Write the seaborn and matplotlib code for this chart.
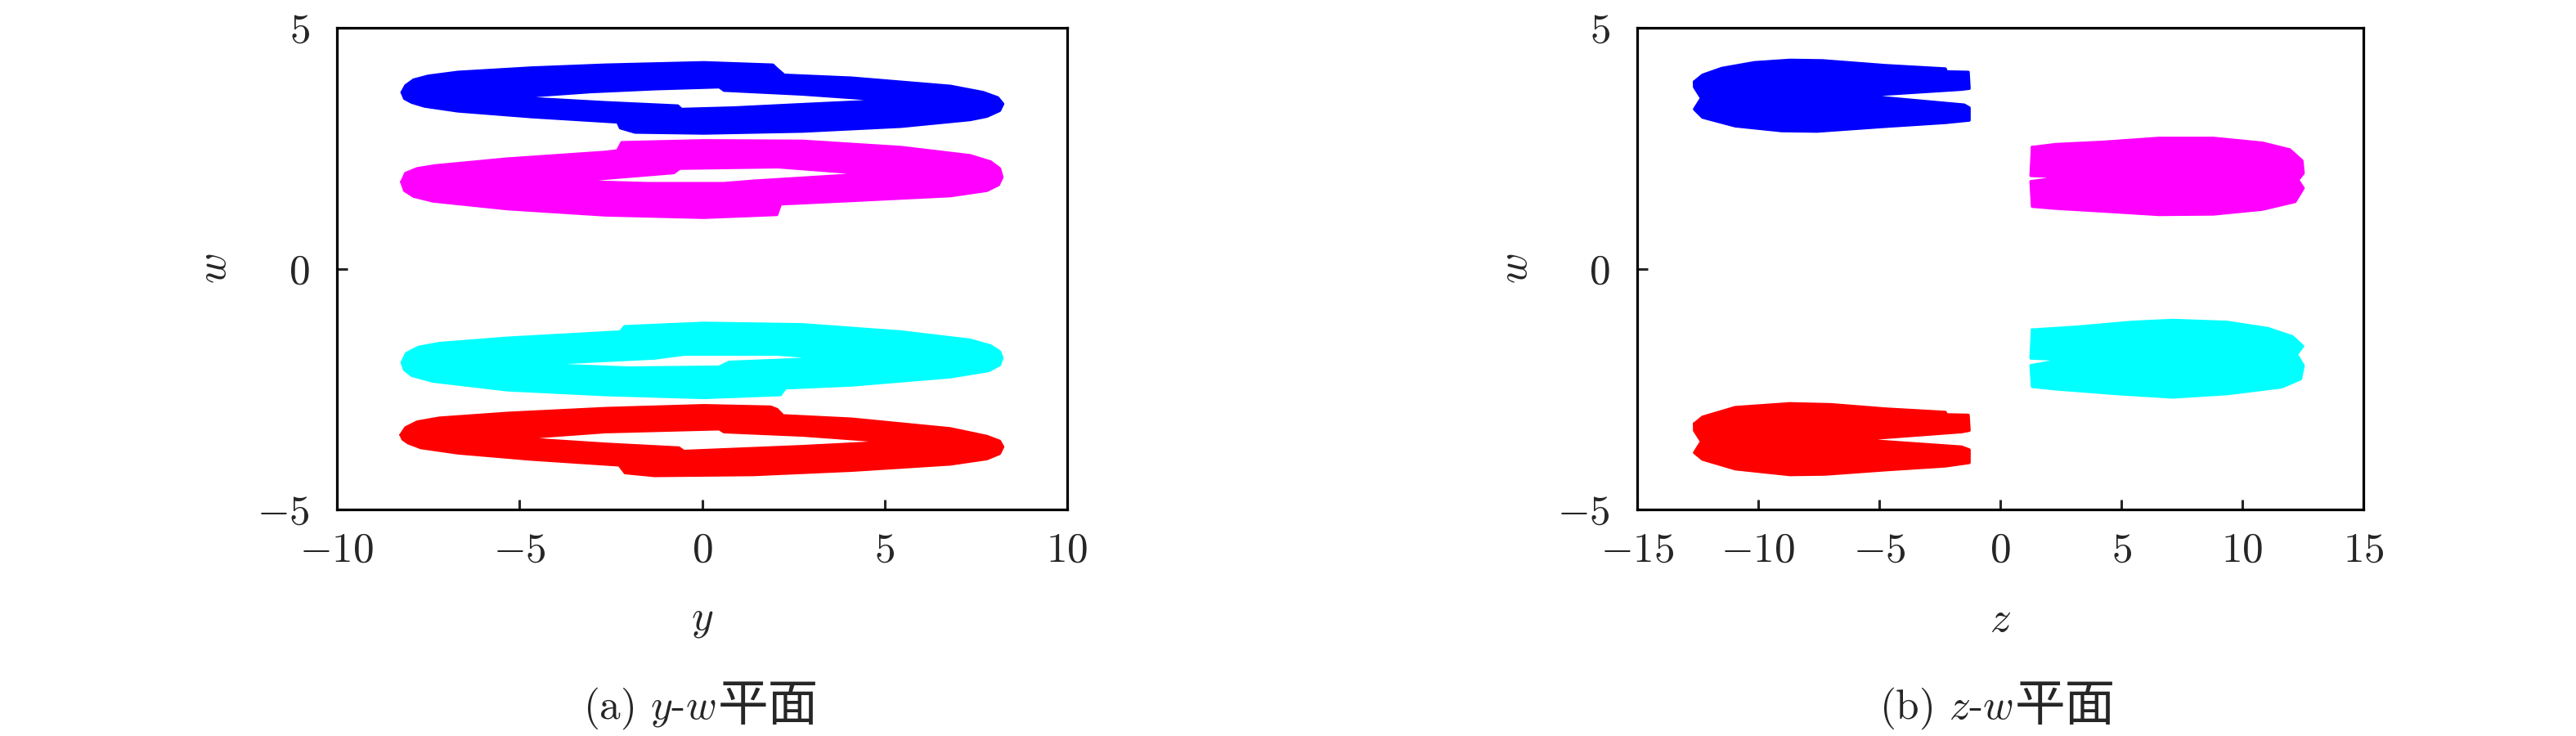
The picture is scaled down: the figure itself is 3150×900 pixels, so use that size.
import numpy as np
import pandas as pd
import seaborn as sns
import matplotlib.pyplot as plt

# ---------------- data (outlines of each attractor band) ----------------
# (a) y-w plane
blue_yw_y = [-8.22, -8.12, -7.90, -7.50, -6.69, -4.67, -2.65, 0.05, 1.94, 2.05, 2.25, 4.10, 6.80, 7.70, 8.10, 8.24,
             8.15, 7.80, 7.34, 5.45, 2.75, 0.05, -1.84, -2.24, -2.31, -4.67, -6.69, -7.60, -7.95, -8.15]
blue_yw_w = [3.66, 3.80, 3.92, 4.00, 4.08, 4.17, 4.23, 4.28, 4.23, 4.15, 4.02, 3.96, 3.79, 3.66, 3.55, 3.42,
             3.28, 3.16, 3.09, 2.95, 2.85, 2.81, 2.83, 2.92, 3.04, 3.15, 3.27, 3.37, 3.45, 3.53]
blue_yw_hole_y = [-4.55, -3.05, -1.30, 0.46, 0.59, 2.75, 4.44, 2.75, 0.86, -0.55, -0.65, -2.65]
blue_yw_hole_w = [3.56, 3.64, 3.70, 3.74, 3.67, 3.59, 3.50, 3.44, 3.37, 3.34, 3.41, 3.48]

magenta_yw_y = [-8.23, -8.12, -7.80, -7.30, -5.34, -2.65, -2.32, -2.20, 0.05, 2.75, 5.45, 7.34, 7.90, 8.15, 8.22,
                8.12, 7.80, 6.80, 4.10, 2.15, 2.05, 0.05, -2.65, -5.34, -7.37, -7.90, -8.15]
magenta_yw_w = [1.80, 1.98, 2.08, 2.14, 2.28, 2.42, 2.45, 2.62, 2.66, 2.65, 2.52, 2.35, 2.22, 2.08, 1.90,
                1.74, 1.62, 1.51, 1.41, 1.34, 1.12, 1.06, 1.11, 1.24, 1.40, 1.50, 1.62]
magenta_yw_hole_y = [-2.85, -0.76, -0.60, 2.08, 3.97, 1.40, 0.59, -1.50]
magenta_yw_hole_w = [1.83, 1.96, 2.05, 2.08, 1.97, 1.85, 1.80, 1.80]

cyan_yw_y = [-8.22, -8.10, -7.77, -7.20, -5.34, -2.24, -2.12, 0.05, 2.75, 5.45, 7.34, 7.90, 8.15, 8.22,
             8.15, 7.85, 6.80, 4.10, 2.28, 2.15, 0.05, -2.65, -5.34, -7.37, -7.95, -8.15]
cyan_yw_w = [-1.95, -1.76, -1.63, -1.55, -1.44, -1.31, -1.20, -1.13, -1.16, -1.31, -1.48, -1.60, -1.72, -1.85,
             -2.00, -2.12, -2.25, -2.42, -2.48, -2.62, -2.68, -2.62, -2.52, -2.34, -2.22, -2.10]
cyan_yw_hole_y = [-3.72, -1.30, -0.49, 2.08, 2.75, 0.73, 0.46, -2.00]
cyan_yw_hole_w = [-1.98, -1.89, -1.81, -1.81, -1.85, -1.91, -2.01, -2.03]

red_yw_y = [-8.25, -8.12, -7.80, -7.20, -5.34, -2.65, 0.05, 1.88, 2.05, 2.22, 4.10, 6.80, 7.80, 8.15, 8.24,
            8.15, 7.80, 6.80, 4.10, 1.40, -1.30, -2.11, -2.27, -4.67, -6.69, -7.70, -8.05, -8.20]
red_yw_w = [-3.45, -3.30, -3.18, -3.10, -3.00, -2.90, -2.84, -2.87, -2.92, -3.05, -3.12, -3.32, -3.48, -3.58, -3.70,
            -3.84, -3.95, -4.06, -4.19, -4.28, -4.30, -4.24, -4.08, -3.96, -3.83, -3.72, -3.62, -3.54]
red_yw_hole_y = [-4.47, -2.65, 0.46, 0.59, 2.75, 4.57, 2.75, -0.49, -0.62, -2.65]
red_yw_hole_w = [-3.52, -3.42, -3.36, -3.42, -3.49, -3.59, -3.66, -3.76, -3.69, -3.61]

# (b) z-w plane
blue_zw_z = [-12.64, -12.30, -11.51, -10.16, -8.69, -7.34, -4.75, -2.27, -2.22, -1.32, -1.28, -1.60,
             -5.65, -1.49, -1.28, -1.28, -2.27, -4.75, -7.57, -9.03, -10.95, -12.30, -12.64, -12.35, -12.64]
blue_zw_w = [3.88, 4.02, 4.16, 4.28, 4.33, 4.32, 4.22, 4.15, 4.09, 4.08, 3.74, 3.72,
             3.59, 3.40, 3.34, 3.08, 3.03, 2.95, 2.85, 2.86, 2.96, 3.14, 3.31, 3.54, 3.77]

red_zw_z = [-12.64, -12.30, -10.95, -8.69, -7.00, -4.75, -2.27, -2.22, -1.32, -1.28, -1.60, -5.88,
            -1.60, -1.28, -1.28, -2.27, -4.75, -7.23, -8.69, -10.95, -12.30, -12.64, -12.35, -12.64]
red_zw_w = [-3.22, -3.08, -2.88, -2.80, -2.82, -2.91, -2.98, -3.03, -3.04, -3.36, -3.39, -3.55,
            -3.70, -3.76, -4.03, -4.10, -4.18, -4.27, -4.28, -4.16, -3.96, -3.82, -3.59, -3.36]

magenta_zw_z = [1.32, 2.27, 4.30, 6.55, 8.81, 10.83, 11.96, 12.47, 12.52, 12.30, 12.52, 12.18,
                10.83, 8.81, 6.55, 4.30, 2.27, 1.32, 1.26, 2.61, 1.26]
magenta_zw_w = [2.52, 2.58, 2.63, 2.71, 2.71, 2.61, 2.47, 2.24, 1.98, 1.84, 1.67, 1.39,
                1.23, 1.13, 1.12, 1.19, 1.25, 1.29, 1.81, 1.90, 1.93]

cyan_zw_z = [1.32, 3.18, 5.43, 7.12, 9.37, 11.06, 12.07, 12.50, 12.24, 12.52, 12.41, 11.62,
             9.37, 7.12, 4.86, 2.27, 1.32, 1.26, 2.61, 1.26]
cyan_zw_w = [-1.27, -1.21, -1.11, -1.07, -1.11, -1.24, -1.41, -1.61, -1.78, -2.01, -2.29, -2.46,
             -2.60, -2.67, -2.60, -2.50, -2.45, -2.01, -1.89, -1.86]

yw_ticks = [-10, -5, 0, 5, 10]
zw_ticks = [-15, -10, -5, 0, 5, 10, 15]
w_ticks = [-5, 0, 5]

BLUE, MAGENTA, CYAN, RED = '#0000ff', '#ff00ff', '#00ffff', '#ff0000'

# ---------------- style ----------------
sns.set_style("white")
plt.rcParams['mathtext.fontset'] = 'cm'
plt.rcParams['font.family'] = ['cmr10', 'DejaVu Sans']
FS = 37


def draw_band(ax, h, w, color, hole_h=None, hole_w=None):
    df = pd.DataFrame({'h': list(h) + [h[0]], 'w': list(w) + [w[0]]})
    ax.fill(df['h'], df['w'], color=color, lw=0, zorder=2)
    sns.lineplot(data=df, x='h', y='w', sort=False, estimator=None, color=color, lw=2.5, ax=ax, zorder=3)
    if hole_h is not None:
        hd = pd.DataFrame({'h': list(hole_h) + [hole_h[0]], 'w': list(hole_w) + [hole_w[0]]})
        ax.fill(hd['h'], hd['w'], color='white', lw=0, zorder=4)


def style_axes(ax, xticks, xlim, xlab):
    ax.set_xlim(*xlim)
    ax.set_ylim(-5, 5)
    ax.set_xticks(xticks, labels=['$%d$' % t for t in xticks])
    ax.set_yticks(w_ticks, labels=['$%d$' % t for t in w_ticks])
    ax.tick_params(axis='both', direction='in', length=9, width=2.2, labelsize=FS,
                   top=False, right=False, left=True, bottom=True)
    ax.tick_params(axis='x', pad=20)
    ax.tick_params(axis='y', pad=24)
    for sp in ax.spines.values():
        sp.set_linewidth(2.3)
        sp.set_color('black')
    ax.set_xlabel('')
    ax.set_ylabel('')
    ax.text(0.5, -0.231, '$%s$' % xlab, transform=ax.transAxes, ha='center', va='center', fontsize=FS)
    ax.text(-148 / 890, 0.5, '$w$', transform=ax.transAxes, ha='center', va='center',
            rotation=90, fontsize=FS)


fig = plt.figure(figsize=(31.5, 9), dpi=100)
ax1 = fig.add_axes([412 / 3150, 277 / 900, 893 / 3150, 589 / 900])
ax2 = fig.add_axes([2002 / 3150, 277 / 900, 888 / 3150, 589 / 900])

draw_band(ax1, blue_yw_y, blue_yw_w, BLUE, blue_yw_hole_y, blue_yw_hole_w)
draw_band(ax1, magenta_yw_y, magenta_yw_w, MAGENTA, magenta_yw_hole_y, magenta_yw_hole_w)
draw_band(ax1, cyan_yw_y, cyan_yw_w, CYAN, cyan_yw_hole_y, cyan_yw_hole_w)
draw_band(ax1, red_yw_y, red_yw_w, RED, red_yw_hole_y, red_yw_hole_w)

draw_band(ax2, blue_zw_z, blue_zw_w, BLUE)
draw_band(ax2, magenta_zw_z, magenta_zw_w, MAGENTA)
draw_band(ax2, cyan_zw_z, cyan_zw_w, CYAN)
draw_band(ax2, red_zw_z, red_zw_w, RED)

style_axes(ax1, yw_ticks, (-10, 10), 'y')
style_axes(ax2, zw_ticks, (-15, 15), 'z')

# captions: latin/math part + CJK part placed side by side
renderer = fig.canvas.get_renderer()
for x_start, head in [(713, r'(a) $y$-$w$'), (2298, r'(b) $z$-$w$')]:
    t1 = fig.text(x_start / 3150, 0.038, head, ha='left', va='center', fontsize=FS)
    w1 = t1.get_window_extent(renderer).width
    fig.text((x_start + w1 + 2) / 3150, 0.040, '平面', ha='left', va='center', fontsize=FS * 1.2,
             family=['Noto Sans CJK SC', 'DejaVu Sans'])

fig.savefig('out.png', dpi=100, facecolor='white')
